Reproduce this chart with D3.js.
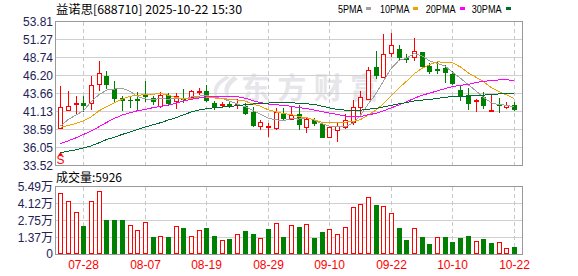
<!DOCTYPE html>
<html>
<head>
<meta charset="utf-8">
<script src="https://cdn.jsdelivr.net/npm/d3@7"></script>
<style>
  body { margin: 0; background: #fff; }
  svg { display: block; font-family: "Liberation Sans", Arial, sans-serif; }
</style>
</head>
<body>
<script>
// trading days 2025-07-23 .. 2025-10-22
var dates = ['07-23','07-24','07-25','07-28','07-29','07-30','07-31','08-01','08-04','08-05',
  '08-06','08-07','08-08','08-11','08-12','08-13','08-14','08-15','08-18','08-19',
  '08-20','08-21','08-22','08-25','08-26','08-27','08-28','08-29','09-01','09-02',
  '09-03','09-04','09-05','09-08','09-09','09-10','09-11','09-12','09-15','09-16',
  '09-17','09-18','09-19','09-22','09-23','09-24','09-25','09-26','09-29','09-30',
  '10-09','10-10','10-13','10-14','10-15','10-16','10-17','10-20','10-21','10-22'];

var open = [38.74,41.33,42.18,42.36,42.27,44.96,46.13,44.25,43.02,42.78,
  42.95,43.54,42.97,41.85,43.40,42.60,42.88,43.21,43.92,44.06,
  42.32,42.10,42.13,42.04,41.89,41.05,39.12,38.97,38.74,40.95,
  40.10,40.72,38.88,39.96,39.35,37.56,38.55,38.97,39.68,41.80,
  42.93,47.41,46.04,49.34,49.95,48.72,48.77,49.52,47.55,47.12,
  47.26,46.37,44.15,43.45,42.60,43.12,41.19,42.04,41.80,42.04];
var high = [44.72,44.01,43.31,43.31,46.18,48.25,46.84,45.43,43.31,43.31,
  43.87,45.43,43.31,43.87,43.68,43.68,44.25,44.15,44.48,44.86,
  42.65,42.51,42.41,42.88,42.36,41.71,39.92,39.54,41.57,41.57,
  41.89,42.04,40.39,40.25,39.44,38.97,39.54,40.72,42.74,44.06,
  47.45,49.67,52.07,52.16,50.51,49.19,51.55,49.52,48.02,48.25,
  47.64,46.89,44.77,44.39,42.93,43.83,43.40,42.97,42.46,42.46];
var low = [38.74,41.30,40.95,41.23,41.42,44.15,44.44,42.65,41.33,41.80,
  41.42,42.55,42.18,41.71,42.04,41.57,42.46,43.12,43.54,42.65,
  41.52,41.71,41.71,41.57,40.81,39.07,38.64,37.70,38.64,39.96,
  40.06,38.69,38.17,39.21,37.51,37.56,36.99,38.83,39.35,40.62,
  42.93,45.80,46.04,48.96,48.39,48.16,48.39,47.45,46.60,46.60,
  45.28,44.96,42.79,41.42,41.19,41.66,41.19,41.10,41.66,41.33];
var close = [41.71,41.85,42.30,42.08,44.81,46.51,45.00,43.07,42.69,42.72,
  42.78,43.26,42.60,43.40,42.27,43.26,42.84,44.06,44.08,42.69,
  41.94,42.15,42.04,42.13,40.86,39.21,39.63,39.07,41.10,40.20,
  40.62,39.30,40.06,39.44,37.56,38.93,39.12,39.92,41.71,43.12,
  46.93,46.27,49.19,50.47,48.77,48.49,49.62,47.55,46.84,46.98,
  46.74,45.10,43.50,42.27,42.69,42.08,41.33,41.99,42.02,41.47];

// volume, 万 (10k lots)
var volume = [4.98,4.28,3.40,2.30,4.28,5.09,2.79,2.79,2.79,2.36,
  1.95,2.60,1.42,1.47,1.42,2.28,2.14,1.47,1.95,2.14,
  1.50,1.15,1.26,1.63,1.90,1.66,1.31,2.06,2.52,1.42,
  2.36,2.22,2.44,1.34,1.82,2.04,1.63,2.20,3.83,4.04,
  4.61,3.99,3.88,3.32,2.14,1.18,2.12,1.42,0.86,1.42,
  1.42,1.02,1.34,1.50,1.07,1.26,0.94,0.99,0.51,0.59];

var ma5 = [39.07,40.01,40.62,41.23,42.55,43.51,44.14,44.29,44.42,43.99,
  43.25,42.90,42.81,42.95,42.86,42.96,42.87,43.17,43.30,43.38,
  43.12,42.98,42.58,42.19,41.82,41.28,40.77,40.18,39.97,39.84,
  40.12,40.06,40.26,39.92,39.40,39.06,39.02,38.99,39.45,40.56,
  42.16,43.59,45.44,47.20,48.33,48.64,49.31,48.98,48.25,47.90,
  47.55,46.64,45.83,44.92,44.06,43.13,42.37,42.07,42.03,41.78];
var ma10 = [38.88,39.16,39.44,39.82,40.39,41.23,41.80,42.36,42.84,43.28,
  43.38,43.53,43.56,43.69,43.43,43.11,42.89,42.99,43.12,43.13,
  43.04,42.93,42.87,42.74,42.60,42.19,41.87,41.37,41.08,40.83,
  40.70,40.42,40.22,39.95,39.62,39.59,39.54,39.63,39.69,39.98,
  40.61,41.31,42.22,43.32,44.44,45.40,46.45,47.21,47.73,48.11,
  48.09,47.98,47.41,46.59,45.98,45.34,44.51,43.95,43.47,42.92];
var ma20 = [36.62,36.99,37.42,37.89,38.41,38.97,39.59,40.15,40.62,40.95,
  41.23,41.42,41.66,41.85,42.04,42.27,42.60,42.84,43.02,43.19,
  43.20,43.22,43.21,43.21,43.01,42.65,42.38,42.18,42.10,41.98,
  41.87,41.67,41.54,41.34,41.11,40.89,40.71,40.50,40.38,40.41,
  40.66,40.86,41.22,41.64,42.03,42.50,42.99,43.42,43.71,44.04,
  44.35,44.64,44.81,44.95,45.21,45.37,45.48,45.58,45.59,45.51];
var ma30 = [35.30,35.54,35.72,36.01,36.29,36.71,37.18,37.51,37.89,38.22,
  38.60,38.93,39.26,39.54,39.92,40.25,40.67,41.05,41.33,41.52,
  41.66,41.75,41.85,41.94,42.08,42.18,42.27,42.32,42.36,42.41,
  42.37,42.28,42.21,42.12,41.88,41.63,41.43,41.33,41.29,41.31,
  41.45,41.55,41.77,42.00,42.22,42.39,42.62,42.74,42.83,42.97,
  43.13,43.23,43.28,43.29,43.35,43.44,43.50,43.60,43.63,43.67];

var priceTicks = [33.52,36.05,38.59,41.13,43.66,46.20,48.74,51.27,53.81];
var volTicks = [0,1.37,2.75,4.12,5.49];
var volTickLabels = ['0','1.37万','2.75万','4.12万','5.49万'];
var dateTicks = ['07-28','08-07','08-19','08-29','09-10','09-22','10-10','10-22'];

var maNames = ['5PMA','10PMA','20PMA','30PMA'];
var maColors = ['#a0a0a0','#f0a000','#ff00ff','#006a30'];

var UP = '#ff0000', DOWN = '#008000';
var width = 578, height = 276;
var left = 55.5, right = 522.5;
var pTop = 21.5, pBot = 165.5, vTop = 186.5, vBot = 254.5;

var svg = d3.select('body').append('svg')
  .attr('width', width)
  .attr('height', height);

var x = d3.scalePoint().domain(dates).range([60.3, 514]);
var y = d3.scaleLinear().domain([33.52, 53.81]).range([pBot, pTop]);
var vy = d3.scaleLinear().domain([0, 5.49]).range([vBot, vTop]);

function cx(d) { return Math.round(x(d)); }
function px(v) { return Math.round(v - 0.5) + 0.5; }

// title & legend
svg.append('text')
  .attr('x', 56).attr('y', 13.5)
  .style('font-family', '"Noto Sans CJK SC", sans-serif')
  .style('font-size', '12px')
  .attr('textLength', 186).attr('lengthAdjust', 'spacingAndGlyphs')
  .text('益诺思[688710] 2025-10-22 15:30');

var legendX = [338, 380, 425.7, 471.7], legendW = [24.5, 29.5, 30, 30], boxX = [366, 413, 460, 506];
maNames.forEach(function(n, i) {
  svg.append('text')
    .attr('x', legendX[i]).attr('y', 12.5)
    .style('font-size', '11px')
    .attr('textLength', legendW[i]).attr('lengthAdjust', 'spacingAndGlyphs')
    .text(n);
  svg.append('rect')
    .attr('x', boxX[i]).attr('y', 7).attr('width', 5).attr('height', 3)
    .attr('fill', maColors[i]);
});

// watermark
var wm = svg.append('g').attr('fill', '#e6e6ea');
wm.append('path').attr('d', 'M226,76 C214,82 210,92 218,100 C214,90 220,83 230,78 Z');
wm.append('path').attr('d', 'M234,76 C222,84 222,94 230,100 C226,91 230,84 238,79 Z');
wm.append('text')
  .attr('x', 241).attr('y', 99)
  .style('font-family', '"Noto Sans CJK SC", sans-serif')
  .style('font-size', '29px').style('font-weight', 'bold')
  .attr('textLength', 138).attr('lengthAdjust', 'spacing')
  .text('东方财富');

// grids
var grid = svg.append('g').attr('shape-rendering', 'crispEdges');
priceTicks.slice(1, -1).forEach(function(v) {
  grid.append('line').attr('x1', left).attr('x2', right)
    .attr('y1', px(y(v))).attr('y2', px(y(v))).attr('stroke', '#d0d0d0');
});
volTicks.slice(1, -1).forEach(function(v) {
  grid.append('line').attr('x1', left).attr('x2', right)
    .attr('y1', px(vy(v))).attr('y2', px(vy(v))).attr('stroke', '#d0d0d0');
});
dateTicks.forEach(function(d) {
  [[pTop, pBot], [vTop, vBot]].forEach(function(r) {
    grid.append('line').attr('x1', cx(d) + 0.5).attr('x2', cx(d) + 0.5)
      .attr('y1', r[0]).attr('y2', r[1])
      .attr('stroke', '#c8c8c8').attr('stroke-dasharray', '4,3');
  });
});

// axis labels
var axisColor = '#222255';
priceTicks.forEach(function(v) {
  svg.append('text')
    .attr('x', 53).attr('y', px(y(v)))
    .attr('text-anchor', 'end').attr('dominant-baseline', 'central')
    .style('font-size', '12px').attr('fill', axisColor)
    .text(v.toFixed(2));
});
volTicks.forEach(function(v, i) {
  svg.append('text')
    .attr('x', 53).attr('y', px(vy(v)) - (i === 0 ? 1 : 0))
    .attr('text-anchor', 'end').attr('dominant-baseline', 'central')
    .style('font-family', '"Liberation Sans", "Noto Sans CJK SC", sans-serif')
    .style('font-size', '12px').attr('fill', axisColor)
    .text(volTickLabels[i]);
});
dateTicks.forEach(function(d) {
  svg.append('text')
    .attr('x', cx(d) + 0.5).attr('y', 269)
    .attr('text-anchor', 'middle')
    .style('font-size', '12px').attr('fill', UP)
    .text(d);
});

svg.append('text')
  .attr('x', 56).attr('y', 182)
  .style('font-family', '"Noto Sans CJK SC", sans-serif')
  .style('font-size', '12px')
  .text('成交量:5926');

// candles
var candles = svg.append('g').attr('shape-rendering', 'crispEdges');
dates.forEach(function(d, i) {
  var c = cx(d);
  var up = close[i] >= open[i];
  var col = up ? UP : DOWN;
  candles.append('line')
    .attr('x1', c + 0.5).attr('x2', c + 0.5)
    .attr('y1', Math.round(y(high[i]))).attr('y2', Math.round(y(low[i])) + 1)
    .attr('stroke', col);
  var t = Math.round(y(Math.max(open[i], close[i])));
  var b = Math.round(y(Math.min(open[i], close[i])));
  if (b - t < 1) {
    candles.append('line')
      .attr('x1', c - 2).attr('x2', c + 3)
      .attr('y1', t + 0.5).attr('y2', t + 0.5)
      .attr('stroke', col);
  } else if (up) {
    candles.append('rect')
      .attr('x', c - 1.5).attr('y', t + 0.5)
      .attr('width', 4).attr('height', b - t)
      .attr('fill', '#fff').attr('stroke', col);
  } else {
    candles.append('rect')
      .attr('x', c - 2).attr('y', t)
      .attr('width', 5).attr('height', b - t + 1)
      .attr('fill', col);
  }
});

// moving averages
[ma5, ma10, ma20, ma30].forEach(function(s, k) {
  var line = d3.line()
    .x(function(v, i) { return x(dates[i]) + 0.2; })
    .y(function(v) { return y(v); });
  svg.append('path')
    .datum(s)
    .attr('d', line)
    .attr('fill', 'none')
    .attr('stroke', maColors[k])
    .attr('stroke-width', 1)
    .attr('shape-rendering', 'crispEdges');
});

// S marker under the first bar
svg.append('path')
  .attr('d', 'M' + (cx(dates[0]) + 0.5) + ',152 l-2.5,3.5 h5 Z')
  .attr('fill', UP);
svg.append('text')
  .attr('x', cx(dates[0]) + 0.5).attr('y', 164)
  .attr('text-anchor', 'middle')
  .style('font-size', '12px').attr('fill', UP)
  .text('S');

// volume bars, coloured by close vs previous close
var vols = svg.append('g').attr('shape-rendering', 'crispEdges');
dates.forEach(function(d, i) {
  var c = cx(d);
  var up = i === 0 ? close[i] >= open[i] : close[i] >= close[i - 1];
  var t = Math.round(vy(volume[i]));
  if (up) {
    vols.append('rect')
      .attr('x', c - 1.5).attr('y', t + 0.5)
      .attr('width', 4).attr('height', 253 - t)
      .attr('fill', '#fff').attr('stroke', UP);
  } else {
    vols.append('rect')
      .attr('x', c - 2).attr('y', t)
      .attr('width', 5).attr('height', 254 - t)
      .attr('fill', DOWN);
  }
});

// frames
[[pTop, pBot], [vTop, vBot]].forEach(function(r) {
  svg.append('rect')
    .attr('x', left).attr('y', r[0])
    .attr('width', right - left).attr('height', r[1] - r[0])
    .attr('fill', 'none').attr('stroke', '#999')
    .attr('shape-rendering', 'crispEdges');
});
</script>
</body>
</html>
